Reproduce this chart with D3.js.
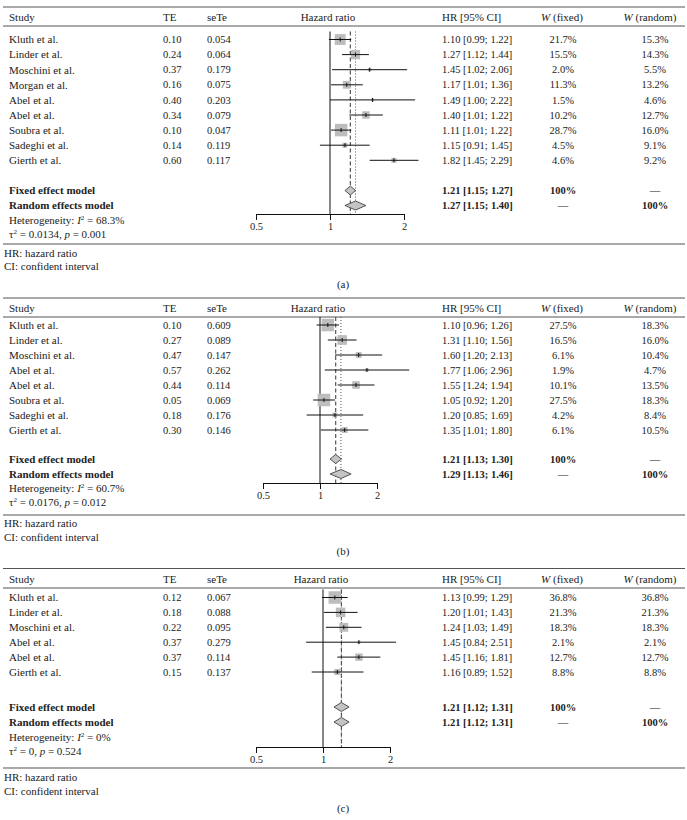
<!DOCTYPE html>
<html><head><meta charset="utf-8">
<script src="https://cdn.jsdelivr.net/npm/d3@7"></script>
<style>body{margin:0;background:#fff}svg{display:block}</style>
</head><body><svg id="c" width="687" height="820"></svg>
<script>
// ---------- DATA ----------
// Panel (a)
const studiesA = ["Kluth et al.","Linder et al.","Moschini et al.","Morgan et al.","Abel et al.","Abel et al.","Soubra et al.","Sadeghi et al.","Gierth et al."];
const teA   = ["0.10","0.24","0.37","0.16","0.40","0.34","0.10","0.14","0.60"];
const seA   = ["0.054","0.064","0.179","0.075","0.203","0.079","0.047","0.119","0.117"];
const hrA   = [1.10,1.27,1.45,1.17,1.49,1.40,1.11,1.15,1.82];
const loA   = [0.99,1.12,1.02,1.01,1.00,1.20,1.01,0.91,1.45];
const hiA   = [1.22,1.44,2.06,1.36,2.22,1.64,1.22,1.45,2.29];
const ciTextA = ["1.10 [0.99; 1.22]","1.27 [1.12; 1.44]","1.45 [1.02; 2.06]","1.17 [1.01; 1.36]","1.49 [1.00; 2.22]","1.40 [1.01; 1.22]","1.11 [1.01; 1.22]","1.15 [0.91; 1.45]","1.82 [1.45; 2.29]"];
const wFixedA  = [21.7,15.5,2.0,11.3,1.5,10.2,28.7,4.5,4.6];
const wRandomA = [15.3,14.3,5.5,13.2,4.6,12.7,16.0,9.1,9.2];
const fixedA  = [1.21,1.15,1.27];
const randomA = [1.27,1.15,1.40];
const hetA = {I2:"68.3%", tau2:"0.0134", p:"0.001"};

// Panel (b)
const studiesB = ["Kluth et al.","Linder et al.","Moschini et al.","Abel et al.","Abel et al.","Soubra et al.","Sadeghi et al.","Gierth et al."];
const teB   = ["0.10","0.27","0.47","0.57","0.44","0.05","0.18","0.30"];
const seB   = ["0.609","0.089","0.147","0.262","0.114","0.069","0.176","0.146"];
const hrB   = [1.10,1.31,1.60,1.77,1.55,1.05,1.20,1.35];
const loB   = [0.96,1.10,1.20,1.06,1.24,0.92,0.85,1.01];
const hiB   = [1.26,1.56,2.13,2.96,1.94,1.20,1.69,1.80];
const ciTextB = ["1.10 [0.96; 1.26]","1.31 [1.10; 1.56]","1.60 [1.20; 2.13]","1.77 [1.06; 2.96]","1.55 [1.24; 1.94]","1.05 [0.92; 1.20]","1.20 [0.85; 1.69]","1.35 [1.01; 1.80]"];
const wFixedB  = [27.5,16.5,6.1,1.9,10.1,27.5,4.2,6.1];
const wRandomB = [18.3,16.0,10.4,4.7,13.5,18.3,8.4,10.5];
const fixedB  = [1.21,1.13,1.30];
const randomB = [1.29,1.13,1.46];
const hetB = {I2:"60.7%", tau2:"0.0176", p:"0.012"};

// Panel (c)
const studiesC = ["Kluth et al.","Linder et al.","Moschini et al.","Abel et al.","Abel et al.","Gierth et al."];
const teC   = ["0.12","0.18","0.22","0.37","0.37","0.15"];
const seC   = ["0.067","0.088","0.095","0.279","0.114","0.137"];
const hrC   = [1.13,1.20,1.24,1.45,1.45,1.16];
const loC   = [0.99,1.01,1.03,0.84,1.16,0.89];
const hiC   = [1.29,1.43,1.49,2.51,1.81,1.52];
const ciTextC = ["1.13 [0.99; 1.29]","1.20 [1.01; 1.43]","1.24 [1.03; 1.49]","1.45 [0.84; 2.51]","1.45 [1.16; 1.81]","1.16 [0.89; 1.52]"];
const wFixedC  = [36.8,21.3,18.3,2.1,12.7,8.8];
const wRandomC = [36.8,21.3,18.3,2.1,12.7,8.8];
const fixedC  = [1.21,1.12,1.31];
const randomC = [1.21,1.12,1.31];
const hetC = {I2:"0%", tau2:"0", p:"0.524"};

const axisTicks = [0.5, 1, 2];
const headers = ["Study","TE","seTe","Hazard ratio","HR [95% CI]"];

// ---------- LAYOUT ----------
const FONT = '"Liberation Serif","Times New Roman",serif';
const svg = d3.select("#c");
const col = {study:9, te:163, se:207, hr:442, wf:563, wr:655, wfH:562, wrH:650};

const panels = [
  {tag:"(a)", studies:studiesA, te:teA, se:seA, hr:hrA, lo:loA, hi:hiA, ci:ciTextA, wf:wFixedA, wr:wRandomA, fixed:fixedA, random:randomA, het:hetA,
   top:7, head:17.5, headLine:26, row0:39.5, step:15.1, fixedY:190.5, randomY:205.5, hetY:220, tauY:234.5, axisY:214, bottom:244, note1:253, note2:266.5, labelY:284, xr:[256,404], clipMax:null},
  {tag:"(b)", studies:studiesB, te:teB, se:seB, hr:hrB, lo:loB, hi:hiB, ci:ciTextB, wf:wFixedB, wr:wRandomB, fixed:fixedB, random:randomB, het:hetB,
   top:298, head:308, headLine:317, row0:325, step:15, fixedY:459, randomY:474, hetY:488, tauY:502.5, axisY:483, bottom:515, note1:523, note2:537, labelY:551, xr:[263,377], clipMax:null},
  {tag:"(c)", studies:studiesC, te:teC, se:seC, hr:hrC, lo:loC, hi:hiC, ci:ciTextC, wf:wFixedC, wr:wRandomC, fixed:fixedC, random:randomC, het:hetC,
   top:568.5, head:579, headLine:588, row0:597.5, step:14.9, fixedY:707, randomY:722, hetY:737, tauY:751.5, axisY:747, bottom:768, note1:777, note2:791, labelY:808.5, xr:[256,390], clipMax:2.13}
];

function txt(g, x, y, s, opt={}) {
  return g.append("text").attr("x", x).attr("y", y).attr("dy","0.35em")
    .attr("font-family", FONT).attr("font-size", opt.size || 11)
    .attr("font-weight", opt.bold ? "bold" : "normal")
    .attr("text-anchor", opt.anchor || "start").attr("fill", "#222").text(s);
}

panels.forEach((p, pi) => {
  const g = svg.append("g");
  const x = d3.scaleLog().domain([0.5, 2]).range(p.xr);
  const rowY = i => p.row0 + i * p.step;
  const n = p.studies.length;
  const maxW = d3.max(p.wf);
  const side = d3.scaleSqrt().domain([0, maxW]).range([0, 12.5]);

  // frame lines
  [p.top, p.headLine, p.bottom].forEach(yy =>
    g.append("line").attr("x1",3).attr("x2",685).attr("y1",yy).attr("y2",yy)
      .attr("stroke","#555").attr("stroke-width",1.1));

  // headers
  txt(g, col.study, p.head, headers[0]);
  txt(g, col.te, p.head, headers[1]);
  txt(g, col.se, p.head, headers[2]);
  txt(g, x(1) - 2, p.head, headers[3], {anchor:"middle"});
  txt(g, col.hr, p.head, headers[4]);
  const wf = txt(g, col.wfH, p.head, "", {anchor:"middle"});
  wf.append("tspan").attr("font-style","italic").text("W");
  wf.append("tspan").text(" (fixed)");
  const wr = txt(g, col.wrH, p.head, "", {anchor:"middle"});
  wr.append("tspan").attr("font-style","italic").text("W");
  wr.append("tspan").text(" (random)");

  // reference lines
  const yTop = p.row0 - 8;
  g.append("line").attr("x1",x(1)).attr("x2",x(1)).attr("y1",yTop).attr("y2",p.axisY)
    .attr("stroke","#111").attr("stroke-width",1);
  g.append("line").attr("x1",x(p.random[0])).attr("x2",x(p.random[0])).attr("y1",yTop).attr("y2",p.axisY)
    .attr("stroke","#555").attr("stroke-width",1).attr("stroke-dasharray","1,2");
  g.append("line").attr("x1",x(p.fixed[0])).attr("x2",x(p.fixed[0])).attr("y1",yTop).attr("y2",p.axisY)
    .attr("stroke","#555").attr("stroke-width",1.2).attr("stroke-dasharray","4,2.5");

  // clip
  const clipId = "clip" + pi;
  const cmax = p.clipMax ? x(p.clipMax) : 687;
  svg.append("clipPath").attr("id", clipId).append("rect")
    .attr("x", 0).attr("y", 0).attr("width", cmax).attr("height", 820);

  // study rows
  for (let i = 0; i < n; i++) {
    const y = rowY(i);
    txt(g, col.study, y, p.studies[i]);
    txt(g, col.te, y, p.te[i], {size:10.5});
    txt(g, col.se, y, p.se[i], {size:10.5});
    txt(g, col.hr, y, p.ci[i], {size:10.5});
    txt(g, col.wf, y, p.wf[i].toFixed(1) + "%", {anchor:"middle", size:10.5});
    txt(g, col.wr, y, p.wr[i].toFixed(1) + "%", {anchor:"middle", size:10.5});
    const s = side(p.wf[i]);
    g.append("rect").attr("x", x(p.hr[i]) - s/2).attr("y", y - s/2).attr("width", s).attr("height", s)
      .attr("fill","#bdbdbd");
    g.append("line").attr("x1", x(p.lo[i])).attr("x2", x(p.hi[i])).attr("y1", y).attr("y2", y)
      .attr("stroke","#111").attr("stroke-width",1).attr("clip-path", `url(#${clipId})`);
    g.append("line").attr("x1", x(p.hr[i])).attr("x2", x(p.hr[i])).attr("y1", y - 2).attr("y2", y + 2)
      .attr("stroke","#111").attr("stroke-width",1);
  }

  // summary diamonds
  const diamond = (est, yy) => {
    const [m, l, h] = est;
    g.append("path")
      .attr("d", `M${x(l)},${yy} L${x(m)},${yy-4.5} L${x(h)},${yy} L${x(m)},${yy+4.5} Z`)
      .attr("fill","#c4c4c4").attr("stroke","#444").attr("stroke-width",0.9);
  };
  diamond(p.fixed, p.fixedY);
  diamond(p.random, p.randomY);

  const fmt = d3.format(".2f");
  txt(g, col.study, p.fixedY, "Fixed effect model", {bold:true});
  txt(g, col.study, p.randomY, "Random effects model", {bold:true});
  txt(g, col.hr, p.fixedY, `${fmt(p.fixed[0])} [${fmt(p.fixed[1])}; ${fmt(p.fixed[2])}]`, {bold:true, size:10.5});
  txt(g, col.hr, p.randomY, `${fmt(p.random[0])} [${fmt(p.random[1])}; ${fmt(p.random[2])}]`, {bold:true, size:10.5});
  txt(g, col.wf, p.fixedY, "100%", {bold:true, anchor:"middle", size:10.5});
  txt(g, col.wr, p.fixedY, "—", {anchor:"middle", size:10.5});
  txt(g, col.wf, p.randomY, "—", {anchor:"middle", size:10.5});
  txt(g, col.wr, p.randomY, "100%", {bold:true, anchor:"middle", size:10.5});

  // heterogeneity
  const h1 = txt(g, col.study, p.hetY, "Heterogeneity: ");
  h1.append("tspan").attr("font-style","italic").text("I");
  h1.append("tspan").attr("font-size",7).attr("dy",-4).text("2");
  h1.append("tspan").attr("dy",4).text(" = " + p.het.I2);
  const h2 = txt(g, col.study, p.tauY, "τ");
  h2.append("tspan").attr("font-size",7).attr("dy",-4).text("2");
  h2.append("tspan").attr("dy",4).text(" = " + p.het.tau2 + ", ");
  h2.append("tspan").attr("font-style","italic").text("p");
  h2.append("tspan").text(" = " + p.het.p);

  // axis
  const ax = g.append("g").attr("transform", `translate(0,${p.axisY})`)
    .call(d3.axisBottom(x).tickValues(axisTicks).tickFormat(d3.format("~g")).tickSize(6).tickSizeOuter(0));
  ax.select(".domain").attr("stroke","#111");
  ax.selectAll(".tick line").attr("stroke","#111");
  ax.selectAll(".tick text").attr("font-family", FONT).attr("font-size", 10.5).attr("fill","#222");

  // notes
  txt(g, col.study - 5, p.note1, "HR: hazard ratio");
  txt(g, col.study - 5, p.note2, "CI: confident interval");
  txt(g, 343, p.labelY, p.tag, {anchor:"middle"});
});
</script></body></html>
